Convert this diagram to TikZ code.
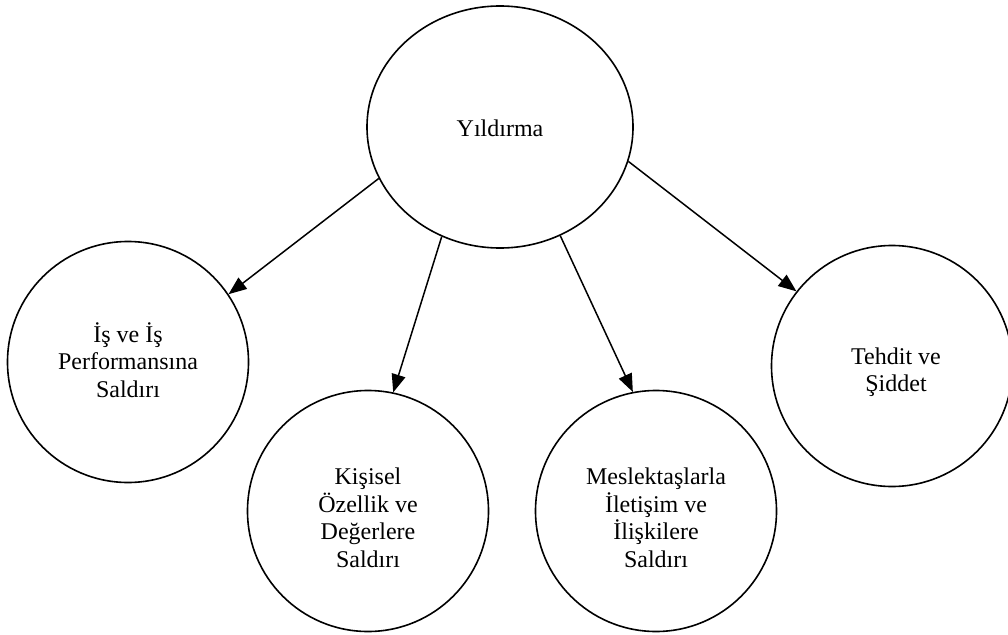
\documentclass[tikz,border=0pt]{standalone}
\usepackage{fontspec}
\setmainfont{Liberation Serif}
\usetikzlibrary{shapes.geometric,arrows.meta}
\begin{document}
\begin{tikzpicture}[x=1pt,y=-1pt,
  bubble/.style={draw,line width=1.6pt,circle,minimum size=241pt,inner sep=0pt},
  rootbubble/.style={bubble,ellipse,minimum width=266pt,minimum height=242pt},
  bubtext/.style={align=center,inner sep=0pt,font=\fontsize{24}{27.5}\selectfont},
  link/.style={line width=1.5pt,-{Triangle[length=18pt,width=14pt]}}]
\useasboundingbox (0,0) rectangle (1008,634);
% outlines
\node[rootbubble] (root) at (500,127) {};
\node[bubble] (work) at (128,362) {};
\node[bubble] (pers) at (368,511) {};
\node[bubble] (coll) at (656,511) {};
\node[bubble] (threat) at (892,366) {};
% captions
\node[bubtext] (rootlbl) at ([yshift=-1pt]root.center) {Yıldırma};
\node[bubtext] (worklbl) at ([yshift=2pt]work.center) {İş ve İş\\Performansına\\Saldırı};
\node[bubtext] (perslbl) at ([yshift=-7pt]pers.center) {Kişisel\\Özellik ve\\Değerlere\\Saldırı};
\node[bubtext] (colllbl) at ([yshift=-7pt]coll.center) {Meslektaşlarla\\İletişim ve\\İlişkilere\\Saldırı};
\node[bubtext] (threatlbl) at ([xshift=4pt,yshift=-6pt]threat.center) {Tehdit ve\\Şiddet};
% connectors
\draw[link] (root.203.4) -- (work.34.6);
\draw[link] (root.242.6) -- (pers.78.5);
\draw[link] (root.299.6) -- (coll.101.3);
\draw[link] (root.345.4) -- (threat.142.6);
\end{tikzpicture}
\end{document}
